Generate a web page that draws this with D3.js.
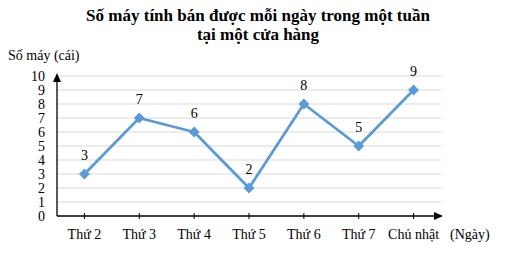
<!DOCTYPE html>
<html lang="vi">
<head>
<meta charset="UTF-8">
<title>Số máy tính bán được</title>
<script src="https://d3js.org/d3.v7.min.js"></script>
<style>
  body { margin: 0; background: #fff; }
  text { font-family: "Liberation Serif", "Times New Roman", serif; fill: #000; }
</style>
</head>
<body>
<div id="chart"></div>
<script>
// data
var days = ["Thứ 2", "Thứ 3", "Thứ 4", "Thứ 5", "Thứ 6", "Thứ 7", "Chủ nhật"]
var sold = [3, 7, 6, 2, 8, 5, 9]
var yTicks = [0, 1, 2, 3, 4, 5, 6, 7, 8, 9, 10]

var width = 505, height = 255
var plotLeft = 57, plotRight = 441, plotTop = 76, plotBottom = 216

var svg = d3.select("#chart").append("svg")
    .attr("width", width)
    .attr("height", height)

var x = d3.scaleBand().domain(days).range([plotLeft, plotRight])
var y = d3.scaleLinear().domain([0, 10]).range([plotBottom, plotTop])
function cx(d) { return x(d) + x.bandwidth() / 2 }

// title
svg.append("text").attr("x", 258).attr("y", 21).attr("text-anchor", "middle")
    .style("font-size", "17px").style("font-weight", "bold")
    .text("Số máy tính bán được mỗi ngày trong một tuần")
svg.append("text").attr("x", 258).attr("y", 40).attr("text-anchor", "middle")
    .style("font-size", "17px").style("font-weight", "bold")
    .text("tại một cửa hàng")

svg.append("text").attr("x", 8).attr("y", 60).style("font-size", "14px").text("Số máy (cái)")
svg.append("text").attr("x", 450).attr("y", 239).style("font-size", "14px").text("(Ngày)")

// gridlines
svg.append("g").selectAll("line").data(yTicks.slice(1)).enter().append("line")
    .attr("x1", plotLeft).attr("x2", plotRight)
    .attr("y1", function(d) { return y(d) }).attr("y2", function(d) { return y(d) })
    .attr("stroke", "#d9d9d9").attr("stroke-width", 1)

// y labels
svg.append("g").selectAll("text").data(yTicks).enter().append("text")
    .attr("x", 45).attr("y", function(d) { return y(d) + 5 })
    .attr("text-anchor", "end").style("font-size", "14px")
    .text(function(d) { return d })

// axes with arrows
svg.append("line").attr("x1", plotLeft).attr("x2", plotLeft).attr("y1", plotBottom).attr("y2", plotTop + 4)
    .attr("stroke", "#000").attr("stroke-width", 1.3)
svg.append("path").attr("d", "M" + plotLeft + "," + (plotTop - 3) + " L" + (plotLeft - 4) + "," + (plotTop + 6) + " L" + (plotLeft + 4) + "," + (plotTop + 6) + "Z")
    .attr("fill", "#000")
svg.append("line").attr("x1", plotLeft).attr("x2", plotRight - 4).attr("y1", plotBottom).attr("y2", plotBottom)
    .attr("stroke", "#000").attr("stroke-width", 1.3)
svg.append("path").attr("d", "M" + (plotRight + 2) + "," + plotBottom + " L" + (plotRight - 7) + "," + (plotBottom - 4) + " L" + (plotRight - 7) + "," + (plotBottom + 4) + "Z")
    .attr("fill", "#000")

// x ticks and labels
var xg = svg.append("g")
xg.selectAll("line").data(days).enter().append("line")
    .attr("x1", cx).attr("x2", cx)
    .attr("y1", plotBottom - 3).attr("y2", plotBottom + 3)
    .attr("stroke", "#000").attr("stroke-width", 1)
xg.selectAll("text").data(days).enter().append("text")
    .attr("x", cx).attr("y", 239).attr("text-anchor", "middle").style("font-size", "14px")
    .text(function(d) { return d })

// line
var pts = days.map(function(d, i) { return { day: d, v: sold[i] } })
var line = d3.line()
    .x(function(d) { return cx(d.day) })
    .y(function(d) { return y(d.v) })

svg.append("path").datum(pts).attr("d", line)
    .attr("fill", "none").attr("stroke", "#5b9bd5").attr("stroke-width", 2.75)
    .attr("stroke-linejoin", "round")

svg.append("g").selectAll("path").data(pts).enter().append("path")
    .attr("d", d3.symbol().type(d3.symbolDiamond2).size(75))
    .attr("transform", function(d) { return "translate(" + cx(d.day) + "," + y(d.v) + ")" })
    .attr("fill", "#5b9bd5")

svg.append("g").selectAll("text").data(pts).enter().append("text")
    .attr("x", function(d) { return cx(d.day) })
    .attr("y", function(d) { return y(d.v) - 14 })
    .attr("text-anchor", "middle").style("font-size", "14px")
    .text(function(d) { return d.v })
</script>
</body>
</html>
